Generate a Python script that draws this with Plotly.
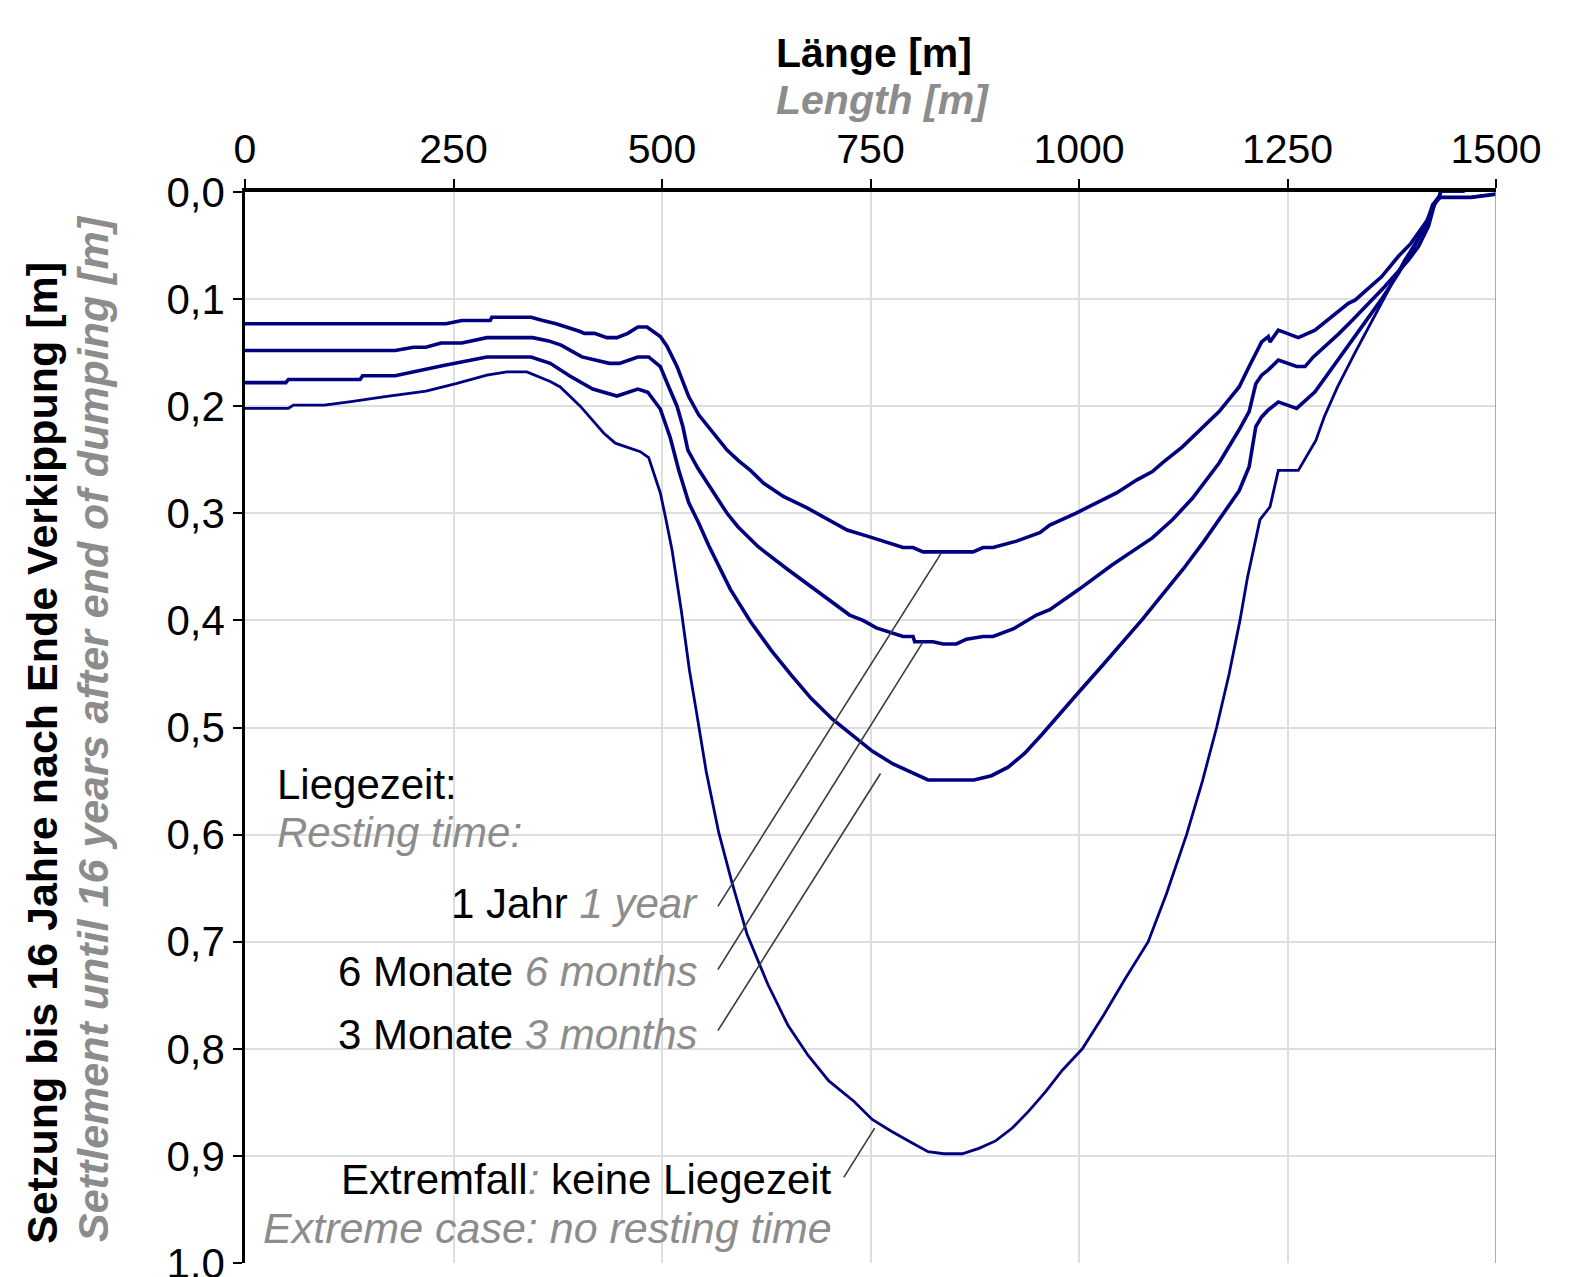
import plotly.graph_objects as go

# ---------------- data ----------------
x_1jahr = [0, 241, 260, 294, 296, 343, 357, 373, 401, 407, 419, 434, 446, 459, 471, 482, 498, 506, 518, 532, 544, 556, 578, 592, 606, 622, 646, 674, 698, 722, 749, 777, 789, 801, 813, 873, 885, 897, 925, 953, 965, 996, 1020, 1045, 1069, 1088, 1100, 1124, 1168, 1192, 1204, 1215, 1219, 1227, 1229, 1239, 1263, 1283, 1310, 1323, 1331, 1363, 1383, 1398, 1418, 1424, 1432, 1434, 1461, 1470, 1500]
y_1jahr = [0.123, 0.123, 0.120, 0.120, 0.117, 0.117, 0.120, 0.123, 0.130, 0.132, 0.132, 0.136, 0.136, 0.132, 0.126, 0.126, 0.135, 0.144, 0.163, 0.191, 0.208, 0.220, 0.241, 0.251, 0.260, 0.272, 0.2845, 0.295, 0.305, 0.3156, 0.322, 0.3296, 0.332, 0.332, 0.336, 0.336, 0.332, 0.332, 0.326, 0.318, 0.311, 0.300, 0.291, 0.281, 0.269, 0.261, 0.253, 0.238, 0.205, 0.182, 0.163, 0.146, 0.140, 0.135, 0.140, 0.129, 0.136, 0.129, 0.112, 0.104, 0.101, 0.079, 0.060, 0.048, 0.026, 0.012, 0.004, -0.001, -0.001, -0.004, -0.004]

x_6mon = [0, 180, 202, 217, 235, 260, 290, 345, 364, 379, 404, 419, 437, 449, 471, 484, 498, 507, 518, 525, 531, 543, 555, 578, 591, 615, 650, 690, 725, 741, 757, 789, 801, 803, 825, 837, 853, 865, 885, 897, 921, 949, 965, 1000, 1040, 1088, 1112, 1136, 1168, 1192, 1204, 1212, 1219, 1227, 1239, 1261, 1271, 1281, 1300, 1312, 1328, 1367, 1395, 1407, 1419, 1426, 1432, 1434, 1461, 1470, 1500]
y_6mon = [0.148, 0.148, 0.145, 0.145, 0.141, 0.141, 0.136, 0.136, 0.139, 0.143, 0.154, 0.157, 0.160, 0.160, 0.154, 0.154, 0.163, 0.180, 0.200, 0.219, 0.241, 0.258, 0.272, 0.300, 0.3125, 0.331, 0.352, 0.375, 0.395, 0.400, 0.407, 0.415, 0.415, 0.420, 0.420, 0.422, 0.422, 0.4175, 0.415, 0.415, 0.408, 0.395, 0.390, 0.371, 0.348, 0.323, 0.306, 0.286, 0.253, 0.222, 0.205, 0.179, 0.171, 0.166, 0.157, 0.163, 0.163, 0.154, 0.141, 0.132, 0.1195, 0.088, 0.0635, 0.051, 0.032, 0.012, 0.004, -0.001, -0.001, -0.004, -0.004]

x_3mon = [0, 49, 52, 138, 141, 180, 238, 290, 343, 366, 390, 404, 417, 446, 471, 483, 498, 510, 520, 532, 544, 556, 582, 606, 631, 655, 679, 704, 728, 752, 777, 801, 819, 874, 895, 915, 935, 955, 978, 1002, 1027, 1052, 1076, 1100, 1125, 1150, 1164, 1180, 1192, 1204, 1212, 1219, 1227, 1239, 1261, 1283, 1300, 1310, 1335, 1362, 1383, 1402, 1418, 1426, 1432, 1470, 1500]
y_3mon = [0.178, 0.178, 0.175, 0.175, 0.1715, 0.1715, 0.162, 0.154, 0.154, 0.160, 0.172, 0.178, 0.184, 0.1905, 0.184, 0.187, 0.2026, 0.2297, 0.2596, 0.290, 0.309, 0.330, 0.371, 0.401, 0.428, 0.451, 0.473, 0.492, 0.507, 0.522, 0.534, 0.543, 0.549, 0.549, 0.545, 0.537, 0.524, 0.507, 0.487, 0.465, 0.443, 0.421, 0.399, 0.376, 0.352, 0.326, 0.310, 0.292, 0.279, 0.2565, 0.219, 0.210, 0.2035, 0.196, 0.202, 0.1865, 0.168, 0.157, 0.129, 0.101, 0.076, 0.051, 0.028, 0.012, 0.005, 0.005, 0.002]

x_extrem = [0, 52, 58, 95, 125, 168, 217, 253, 290, 314, 338, 366, 378, 402, 420, 430, 444, 474, 484, 498, 504, 512, 523, 533, 541, 553, 568, 584, 602, 627, 651, 675, 700, 730, 752, 775, 800, 819, 838, 860, 880, 900, 920, 940, 960, 980, 1004, 1030, 1055, 1083, 1105, 1129, 1148, 1165, 1180, 1193, 1202, 1209, 1217, 1229, 1239, 1263, 1284, 1294, 1310, 1331, 1367, 1390, 1407, 1419, 1426, 1434, 1470, 1500]
y_extrem = [0.202, 0.202, 0.199, 0.199, 0.196, 0.191, 0.186, 0.179, 0.171, 0.168, 0.168, 0.177, 0.182, 0.200, 0.216, 0.225, 0.2345, 0.2425, 0.248, 0.281, 0.303, 0.334, 0.390, 0.447, 0.484, 0.541, 0.598, 0.645, 0.693, 0.740, 0.778, 0.806, 0.830, 0.849, 0.866, 0.877, 0.888, 0.896, 0.898, 0.898, 0.893, 0.886, 0.874, 0.858, 0.840, 0.820, 0.800, 0.768, 0.735, 0.700, 0.655, 0.600, 0.550, 0.500, 0.450, 0.400, 0.360, 0.334, 0.306, 0.294, 0.260, 0.260, 0.232, 0.210, 0.182, 0.150, 0.098, 0.064, 0.043, 0.023, 0.011, 0.005, 0.005, 0.002]

x_ticks = [0, 250, 500, 750, 1000, 1250, 1500]
y_ticks = [0.0, 0.1, 0.2, 0.3, 0.4, 0.5, 0.6, 0.7, 0.8, 0.9, 1.0]
y_ticktext = ["0,0", "0,1", "0,2", "0,3", "0,4", "0,5", "0,6", "0,7", "0,8", "0,9", "1,0"]

# leader lines from labels to curves: (x0, y0, x1, y1)
leaders = [
    (567, 0.667, 835, 0.337),
    (567, 0.726, 813, 0.420),
    (567, 0.783, 762, 0.543),
    (718, 0.920, 755, 0.874),
]

# ---------------- styling ----------------
NAVY = "#000080"
GRAY = "#8c8c8c"
FONT = "Liberation Sans"

W, H = 1590, 1277
OFF = 8  # default page body margin offsets the figure
# plot area in page pixels: left 245, top 192, right 1496, bottom 1263
L = 245 - OFF
T = 192 - OFF
R = W - (1496 - OFF)
B = H - (1263 - OFF)

fig = go.Figure()
for xs, ys, w in [(x_1jahr, y_1jahr, 3.6), (x_6mon, y_6mon, 3.6), (x_3mon, y_3mon, 3.6), (x_extrem, y_extrem, 2.8)]:
    fig.add_trace(go.Scatter(x=xs, y=ys, mode="lines", line=dict(color=NAVY, width=w), showlegend=False, hoverinfo="skip"))

shapes = []
for x0, y0, x1, y1 in leaders:
    shapes.append(dict(type="line", xref="x", yref="y", x0=x0, y0=y0, x1=x1, y1=y1,
                       line=dict(color="#3a3a3a", width=1.6)))
# right border
shapes.append(dict(type="line", xref="x", yref="paper", x0=1500, x1=1500, y0=0, y1=1,
                   line=dict(color="#909090", width=1.5)))

def px2paper_x(px):  # page pixel -> paper
    return (px - OFF - L) / (W - L - R)

def px2paper_y(py):
    return (H - B - (py - OFF)) / (H - T - B)

ann = []
# x title
ann.append(dict(xref="paper", yref="paper", x=px2paper_x(874), y=px2paper_y(53), text="<b>Länge [m]</b>",
                showarrow=False, font=dict(family=FONT, size=41, color="black"), xanchor="center", yanchor="middle"))
ann.append(dict(xref="paper", yref="paper", x=px2paper_x(882), y=px2paper_y(100), text="<b><i>Length [m]</i></b>",
                showarrow=False, font=dict(family=FONT, size=41, color=GRAY), xanchor="center", yanchor="middle"))
# y title
ann.append(dict(xref="paper", yref="paper", x=px2paper_x(42), y=px2paper_y(753), textangle=-90,
                text="<b>Setzung bis 16 Jahre nach Ende Verkippung [m]</b>",
                showarrow=False, font=dict(family=FONT, size=43, color="black"), xanchor="center", yanchor="middle"))
ann.append(dict(xref="paper", yref="paper", x=px2paper_x(93), y=px2paper_y(729), textangle=-90,
                text="<b><i>Settlement until 16 years after end of dumping [m]</i></b>",
                showarrow=False, font=dict(family=FONT, size=43, color=GRAY), xanchor="center", yanchor="middle"))

def t(x, y, text, xanchor, size=42):
    ann.append(dict(xref="x", yref="y", x=x, y=y, text=text, showarrow=False, xanchor=xanchor, yanchor="middle",
                    font=dict(family=FONT, size=size, color="black")))

g = lambda s: f"<i><span style='color:{GRAY}'>{s}</span></i>"
t(36, 0.553, "Liegezeit:", "left")
t(36, 0.598, g("Resting time:"), "left")
t(545, 0.664, "1 Jahr " + g("1 year"), "right")
t(545, 0.728, "6 Monate " + g("6 months"), "right")
t(545, 0.787, "3 Monate " + g("3 months"), "right")
t(706, 0.922, "Extremfall" + g(":") + " keine Liegezeit", "right")
t(706, 0.967, g("Extreme case: no resting time"), "right", 43)

fig.update_layout(
    width=W, height=H,
    margin=dict(l=L, r=R, t=T, b=B, pad=0, autoexpand=False),
    paper_bgcolor="white", plot_bgcolor="white",
    font=dict(family=FONT, size=41, color="black"),
    shapes=shapes, annotations=ann,
    xaxis=dict(side="top", range=[0, 1500], tickvals=x_ticks, ticks="outside", ticklen=9, tickwidth=2,
               tickcolor="black", showline=True, linecolor="black", linewidth=4,
               showgrid=True, gridcolor="#dedede", gridwidth=1.6, zeroline=False, automargin=False,
               ticklabeloverflow="allow",
               tickfont=dict(family=FONT, size=41, color="black")),
    yaxis=dict(range=[1.0, 0.0], tickvals=y_ticks, ticktext=y_ticktext, ticks="outside", ticklen=9, tickwidth=2,
               tickcolor="black", showline=True, linecolor="black", linewidth=2.5,
               showgrid=True, gridcolor="#dedede", gridwidth=1.6, zeroline=False, automargin=False,
               ticklabeloverflow="allow",
               tickfont=dict(family=FONT, size=42, color="black")),
)

fig.write_html("out.html")
